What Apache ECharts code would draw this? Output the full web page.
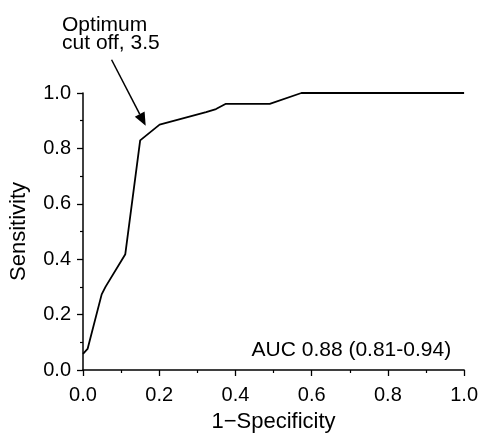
<!DOCTYPE html>
<html>
<head>
<meta charset="utf-8">
<script src="https://cdn.jsdelivr.net/npm/echarts@6/dist/echarts.min.js"></script>
<style>
  html, body { margin: 0; padding: 0; background: #fff; }
  #chart { width: 481px; height: 438px; }
</style>
</head>
<body>
<div id="chart"></div>
<script>
// ROC curve values (1-Specificity, Sensitivity)
const falsePositiveRate = [0, 0.012, 0.049, 0.059, 0.111, 0.150, 0.201, 0.323, 0.349, 0.375, 0.490, 0.573, 1.0];
const sensitivity      = [0.058, 0.076, 0.273, 0.300, 0.418, 0.829, 0.886, 0.931, 0.942, 0.961, 0.961, 1.0, 1.0];
const xTickLabels = ['0.0', '0.2', '0.4', '0.6', '0.8', '1.0'];
const yTickLabels = ['0.0', '0.2', '0.4', '0.6', '0.8', '1.0'];
const xTitle = '1\u2212Specificity';
const yTitle = 'Sensitivity';
const annotationText = 'Optimum\ncut off, 3.5';
const aucText = 'AUC 0.88 (0.81-0.94)';
// annotation anchors in data space
const arrowTail = [0.075, 1.120];
const arrowTip = [0.1645, 0.882];
const annotationAnchor = [-0.055, 1.276];
const aucAnchor = [0.966, 0.0725];

const FONT = '"Liberation Sans", Arial, sans-serif';
const chart = echarts.init(document.getElementById('chart'), null, { renderer: 'canvas' });

const points = falsePositiveRate.map((x, i) => [x, sensitivity[i]]);

function axisCommon(labels) {
  return {
    type: 'value', min: 0, max: 1, interval: 0.2,
    axisLine: { show: true, lineStyle: { color: '#000', width: 1.5 } },
    axisTick: { show: true, inside: false, length: 6, lineStyle: { color: '#000', width: 1.3 } },
    minorTick: { show: true, splitNumber: 2, length: 3, lineStyle: { color: '#000', width: 1.2 } },
    splitLine: { show: false },
    minorSplitLine: { show: false },
    axisLabel: {
      color: '#000', fontSize: 20, fontFamily: FONT,
      formatter: v => labels[Math.round(v / 0.2)]
    },
    nameTextStyle: { color: '#000', fontSize: 22, fontFamily: FONT }
  };
}

const xAxis = axisCommon(xTickLabels);
xAxis.name = xTitle; xAxis.nameLocation = 'middle'; xAxis.nameGap = 41;
xAxis.axisLabel.margin = 15;
const yAxis = axisCommon(yTickLabels);
yAxis.name = yTitle; yAxis.nameLocation = 'middle'; yAxis.nameGap = 53; yAxis.nameRotate = 90;
yAxis.axisLabel.margin = 12;

chart.setOption({
  animation: false,
  backgroundColor: '#fff',
  grid: { left: 83, right: 15, top: 93, bottom: 65, containLabel: false },
  xAxis: xAxis,
  yAxis: yAxis,
  series: [{
    type: 'line',
    data: points,
    showSymbol: false,
    clip: false,
    lineStyle: { color: '#000', width: 1.8 },
    itemStyle: { color: '#000' }
  }]
});

function px(p) { return chart.convertToPixel({ gridIndex: 0 }, p); }

const tail = px(arrowTail);
const tip = px(arrowTip);
const dx = tip[0] - tail[0], dy = tip[1] - tail[1];
const len = Math.sqrt(dx * dx + dy * dy);
const ux = dx / len, uy = dy / len;
const headLen = 13, headHalf = 5.5;
const base = [tip[0] - ux * headLen, tip[1] - uy * headLen];
const nx = -uy, ny = ux;
const annot = px(annotationAnchor);
const auc = px(aucAnchor);

chart.setOption({
  graphic: [
    {
      type: 'line',
      shape: { x1: tail[0], y1: tail[1], x2: base[0], y2: base[1] },
      style: { stroke: '#000', lineWidth: 1.5 }
    },
    {
      type: 'polygon',
      shape: { points: [tip, [base[0] + nx * headHalf, base[1] + ny * headHalf], [base[0] - nx * headHalf, base[1] - ny * headHalf]] },
      style: { fill: '#000' }
    },
    {
      type: 'text',
      x: annot[0], y: annot[1],
      style: {
        text: annotationText, fill: '#000', font: '21px ' + FONT,
        lineHeight: 18, align: 'left', verticalAlign: 'top'
      }
    },
    {
      type: 'text',
      x: auc[0], y: auc[1],
      style: {
        text: aucText, fill: '#000', font: '21px ' + FONT,
        align: 'right', verticalAlign: 'middle'
      }
    }
  ]
});
</script>
</body>
</html>
